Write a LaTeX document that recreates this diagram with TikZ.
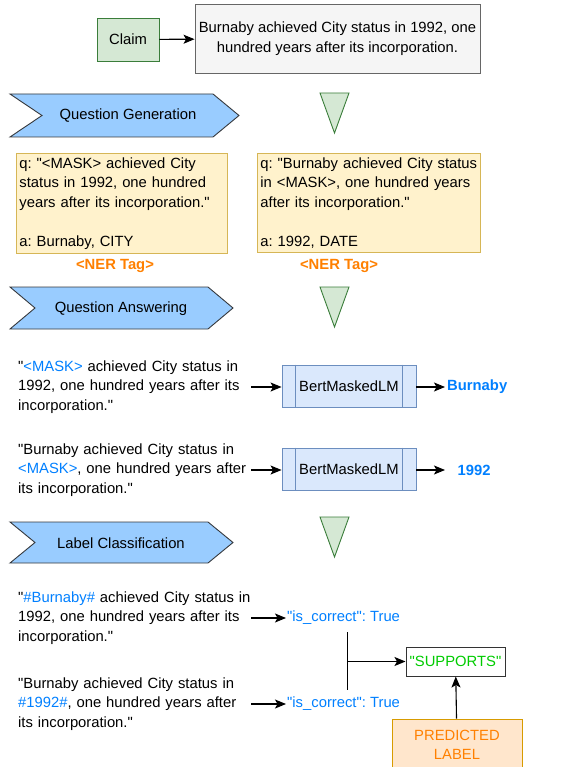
\documentclass[tikz,border=0pt]{standalone}
\usepackage{fontspec}
\setmainfont{Liberation Sans}[Ligatures=TeXOff]
\usetikzlibrary{arrows.meta}
\usetikzlibrary{positioning}

\definecolor{claimfill}{HTML}{D5E8D4}
\definecolor{claimdraw}{HTML}{3A7D3A}
\definecolor{grayfill}{HTML}{F5F5F5}
\definecolor{graydraw}{HTML}{666666}
\definecolor{chevfill}{HTML}{99CCFF}
\definecolor{chevdraw}{HTML}{36393D}
\definecolor{qafill}{HTML}{FFF2CC}
\definecolor{qadraw}{HTML}{D6B656}
\definecolor{bertfill}{HTML}{DAE8FC}
\definecolor{bertdraw}{HTML}{6C8EBF}
\definecolor{predfill}{HTML}{FFE6CC}
\definecolor{preddraw}{HTML}{D79B00}
\definecolor{tagorange}{HTML}{FF8000}
\definecolor{maskblue}{HTML}{007FFF}
\definecolor{okgreen}{HTML}{00CC00}

\begin{document}
\frenchspacing
\begin{tikzpicture}[x=1pt, y=-1pt,
    every node/.style={font=\fontsize{14.8}{19.5}\selectfont},
    arr/.style={-{Stealth[length=11pt,width=9pt,inset=2.5pt]}, line width=1.1pt},
    chev/.style={fill=chevfill, draw=chevdraw, line width=0.9pt},
    tri/.style={fill=claimfill, draw=claimdraw, line width=0.9pt},
    qabox/.style={fill=qafill, draw=qadraw, line width=0.9pt, align=left,
      text width=205, inner xsep=3, inner ysep=4, minimum height=97, anchor=north west},
    sent/.style={anchor=west, text width=233, align=left, inner sep=0},
    bert/.style={fill=bertfill, draw=bertdraw, line width=0.9pt,
      minimum width=134, minimum height=42},
    outtxt/.style={anchor=west, inner xsep=2, inner ysep=0, minimum width=58, text=maskblue, font=\fontsize{14.8}{19.5}\selectfont\bfseries},
    corr/.style={anchor=west, inner sep=0, text=maskblue},
    nertag/.style={text=tagorange, font=\fontsize{14.8}{19.5}\selectfont\bfseries}]
  \useasboundingbox (0,0) rectangle (587,767);

  % claim
  \node[fill=claimfill, draw=claimdraw, line width=0.9pt, minimum width=62, minimum height=43] (claim) at (128,39.5) {Claim};
  \node[fill=grayfill, draw=graydraw, line width=0.9pt, minimum width=285, minimum height=69, align=center] (claimtxt) at (337.5,38.5)
    {Burnaby achieved City status in 1992, one\\hundred years after its incorporation.};

  % stage banners
  \draw[chev] (10,94) -- (213,94) -- (239,115.5) -- (213,137) -- (10,137) -- (42,115.5) -- cycle;
  \draw[chev] (10,287) -- (208,287) -- (233,308) -- (208,329) -- (10,329) -- (35,308) -- cycle;
  \draw[chev] (10,522) -- (208,522) -- (233,542.5) -- (208,563) -- (10,563) -- (35,542.5) -- cycle;
  \node (qgen) at (128,116) {Question Generation};
  \node (qans) at (121,309) {Question Answering};
  \node (lcls) at (121,543) {Label Classification};
  \foreach \t in {93,287,517}
    \draw[tri] (320,\t) -- (349,\t) -- (334.5,{\t+40}) -- cycle;

  % question generation
  \node[qabox] (qa1) at (16,153) {q: "<MASK> achieved City\\status in 1992, one hundred\\years after its incorporation."\\[19.5pt]a: Burnaby, CITY};
  \node[qabox, text width=217] (qa2) at (257,153) {q: "Burnaby achieved City status\\in <MASK>, one hundred years\\after its incorporation."\\[19.5pt]a: 1992, DATE};
  \node[nertag] (ner1) at (115,266) {<NER Tag>};
  \node[nertag] (ner2) at (339,266) {<NER Tag>};

  % question answering
  \node[sent] (s1) at (18,387) {"\textcolor{maskblue}{<MASK>} achieved City status in\\1992, one hundred years after its\\incorporation."};
  \node[sent] (s2) at (18,470) {"Burnaby achieved City status in\\\textcolor{maskblue}{<MASK>}, one hundred years after\\its incorporation."};
  \node[bert] (b1) at (349,386) {BertMaskedLM};
  \node[bert] (b2) at (349,469) {BertMaskedLM};
  \foreach \b in {b1,b2} {
    \draw[bertdraw, line width=0.9pt] ([xshift=14]\b.north west) -- ([xshift=14]\b.south west);
    \draw[bertdraw, line width=0.9pt] ([xshift=-14]\b.north east) -- ([xshift=-14]\b.south east);
  }
  \node[outtxt] (w1) at (445,387) {Burnaby};
  \node[outtxt] (w2) at (445,470) {1992};

  % label classification
  \node[sent] (s3) at (18,618) {"\textcolor{maskblue}{\#Burnaby\#} achieved City status in\\1992, one hundred years after its\\incorporation."};
  \node[sent] (s4) at (18,704) {"Burnaby achieved City status in\\\textcolor{maskblue}{\#1992\#}, one hundred years after\\its incorporation."};
  \node[corr] (c1) at (287,618) {"is\_correct": True};
  \node[corr] (c2) at (287,704) {"is\_correct": True};
  \coordinate (jtop) at (347,632); \coordinate (jbot) at (347,690); \coordinate (jmid) at (347,661.5);
  \node[draw=black!80, line width=1pt, fill=white, minimum width=99, minimum height=29, text=okgreen] (sup) at (455.5,661.5) {"SUPPORTS"};
  \node[fill=predfill, draw=preddraw, line width=0.9pt, minimum width=130, minimum height=52, align=center, text=tagorange] (pred) at (457,745) {PREDICTED\\LABEL};

  \draw[line width=0.9pt] (jtop) -- (jbot);
  \path[arr]
    (claim) edge (claimtxt)
    (s1) edge (b1.west |- s1.east)
    (s2) edge (b2.west |- s2.east)
    (b1.east |- w1.west) edge (w1)
    (b2.east |- w2.west) edge (w2)
    (s3) edge[shorten >=1pt] (c1)
    (s4) edge[shorten >=1pt] (c2)
    (jmid) edge (sup)
    (pred) edge (sup);
\end{tikzpicture}
\end{document}
